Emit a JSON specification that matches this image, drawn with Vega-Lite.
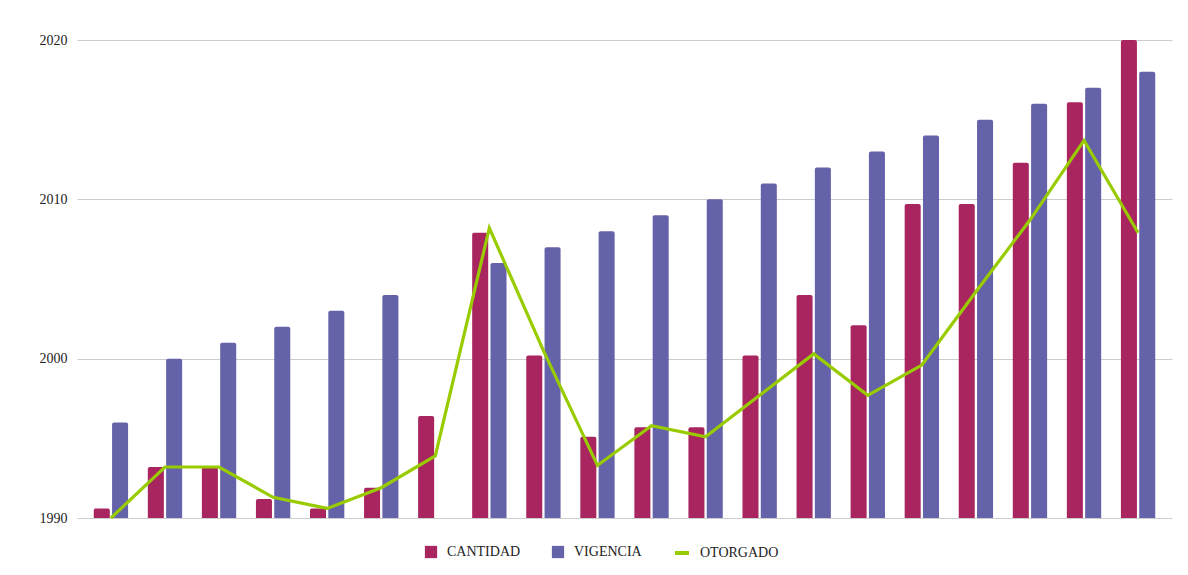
{
  "$schema": "https://vega.github.io/schema/vega-lite/v6.json",
  "width": 1095,
  "height": 478,
  "autosize": {"type": "none"},
  "padding": {"left": 77, "top": 40, "right": 16, "bottom": 57},
  "background": "white",
  "config": {"view": {"stroke": null}, "font": "Liberation Serif, Times New Roman, serif"},
  "data": {
    "values": [
      {"g": 1, "serie": "CANTIDAD", "valor": 1990.6}, {"g": 1, "serie": "VIGENCIA", "valor": 1996}, {"g": 1, "serie": "OTORGADO", "valor": 1990},
      {"g": 2, "serie": "CANTIDAD", "valor": 1993.2}, {"g": 2, "serie": "VIGENCIA", "valor": 2000}, {"g": 2, "serie": "OTORGADO", "valor": 1993.2},
      {"g": 3, "serie": "CANTIDAD", "valor": 1993.2}, {"g": 3, "serie": "VIGENCIA", "valor": 2001}, {"g": 3, "serie": "OTORGADO", "valor": 1993.2},
      {"g": 4, "serie": "CANTIDAD", "valor": 1991.2}, {"g": 4, "serie": "VIGENCIA", "valor": 2002}, {"g": 4, "serie": "OTORGADO", "valor": 1991.3},
      {"g": 5, "serie": "CANTIDAD", "valor": 1990.6}, {"g": 5, "serie": "VIGENCIA", "valor": 2003}, {"g": 5, "serie": "OTORGADO", "valor": 1990.6},
      {"g": 6, "serie": "CANTIDAD", "valor": 1991.9}, {"g": 6, "serie": "VIGENCIA", "valor": 2004}, {"g": 6, "serie": "OTORGADO", "valor": 1991.9},
      {"g": 7, "serie": "CANTIDAD", "valor": 1996.4}, {"g": 7, "serie": "OTORGADO", "valor": 1993.9},
      {"g": 8, "serie": "CANTIDAD", "valor": 2007.9}, {"g": 8, "serie": "VIGENCIA", "valor": 2006}, {"g": 8, "serie": "OTORGADO", "valor": 2008.2},
      {"g": 9, "serie": "CANTIDAD", "valor": 2000.2}, {"g": 9, "serie": "VIGENCIA", "valor": 2007}, {"g": 9, "serie": "OTORGADO", "valor": 2000.5},
      {"g": 10, "serie": "CANTIDAD", "valor": 1995.1}, {"g": 10, "serie": "VIGENCIA", "valor": 2008}, {"g": 10, "serie": "OTORGADO", "valor": 1993.3},
      {"g": 11, "serie": "CANTIDAD", "valor": 1995.7}, {"g": 11, "serie": "VIGENCIA", "valor": 2009}, {"g": 11, "serie": "OTORGADO", "valor": 1995.8},
      {"g": 12, "serie": "CANTIDAD", "valor": 1995.7}, {"g": 12, "serie": "VIGENCIA", "valor": 2010}, {"g": 12, "serie": "OTORGADO", "valor": 1995.1},
      {"g": 13, "serie": "CANTIDAD", "valor": 2000.2}, {"g": 13, "serie": "VIGENCIA", "valor": 2011}, {"g": 13, "serie": "OTORGADO", "valor": 1997.7},
      {"g": 14, "serie": "CANTIDAD", "valor": 2004.0}, {"g": 14, "serie": "VIGENCIA", "valor": 2012}, {"g": 14, "serie": "OTORGADO", "valor": 2000.3},
      {"g": 15, "serie": "CANTIDAD", "valor": 2002.1}, {"g": 15, "serie": "VIGENCIA", "valor": 2013}, {"g": 15, "serie": "OTORGADO", "valor": 1997.7},
      {"g": 16, "serie": "CANTIDAD", "valor": 2009.7}, {"g": 16, "serie": "VIGENCIA", "valor": 2014}, {"g": 16, "serie": "OTORGADO", "valor": 1999.6},
      {"g": 17, "serie": "CANTIDAD", "valor": 2009.7}, {"g": 17, "serie": "VIGENCIA", "valor": 2015}, {"g": 17, "serie": "OTORGADO", "valor": 2004.2},
      {"g": 18, "serie": "CANTIDAD", "valor": 2012.3}, {"g": 18, "serie": "VIGENCIA", "valor": 2016}, {"g": 18, "serie": "OTORGADO", "valor": 2008.7},
      {"g": 19, "serie": "CANTIDAD", "valor": 2016.1}, {"g": 19, "serie": "VIGENCIA", "valor": 2017}, {"g": 19, "serie": "OTORGADO", "valor": 2013.7},
      {"g": 20, "serie": "CANTIDAD", "valor": 2020.0}, {"g": 20, "serie": "VIGENCIA", "valor": 2018}, {"g": 20, "serie": "OTORGADO", "valor": 2007.9}
    ]
  },
  "encoding": {
    "x": {"field": "g", "type": "ordinal", "axis": null, "scale": {"paddingInner": 0.365, "paddingOuter": 0.31}}
  },
  "layer": [
    {
      "transform": [{"filter": "datum.serie !== 'OTORGADO'"}],
      "mark": {"type": "bar", "cornerRadiusTopLeft": 2, "cornerRadiusTopRight": 2},
      "encoding": {
        "xOffset": {"field": "serie", "type": "nominal", "sort": ["CANTIDAD", "VIGENCIA"], "scale": {"domain": ["CANTIDAD", "VIGENCIA"], "paddingInner": 0.125}},
        "y": {
          "field": "valor", "type": "quantitative",
          "scale": {"domain": [1990, 2020], "zero": false, "nice": false},
          "axis": {"values": [1990, 2000, 2010, 2020], "format": "d", "title": null, "domain": false, "ticks": false, "labelPadding": 10, "labelFont": "Liberation Serif", "labelFontSize": 14, "labelColor": "#222222", "gridColor": "#cccccc", "gridWidth": 1}
        },
        "y2": {"datum": 1990},
        "fill": {
          "field": "serie", "type": "nominal",
          "scale": {"domain": ["CANTIDAD", "VIGENCIA"], "range": ["#A8255F", "#6462A8"]},
          "legend": {"title": null, "orient": "none", "legendX": 347, "legendY": 505, "direction": "horizontal", "symbolType": "square", "symbolSize": 150, "symbolStrokeWidth": 0, "labelOffset": 9, "columnPadding": 30, "labelFont": "Liberation Serif", "labelFontSize": 14, "labelColor": "#222222"}
        }
      }
    },
    {
      "transform": [{"filter": "datum.serie === 'OTORGADO'"}],
      "mark": {"type": "line", "strokeWidth": 3.2},
      "encoding": {
        "y": {"field": "valor", "type": "quantitative"},
        "stroke": {
          "field": "serie", "type": "nominal",
          "scale": {"domain": ["OTORGADO"], "range": ["#99CC00"]},
          "legend": {"title": null, "orient": "none", "legendX": 596, "legendY": 504, "symbolType": "stroke", "symbolSize": 196, "symbolStrokeWidth": 4, "labelOffset": 9, "labelFont": "Liberation Serif", "labelFontSize": 14, "labelColor": "#222222"}
        }
      }
    }
  ]
}
